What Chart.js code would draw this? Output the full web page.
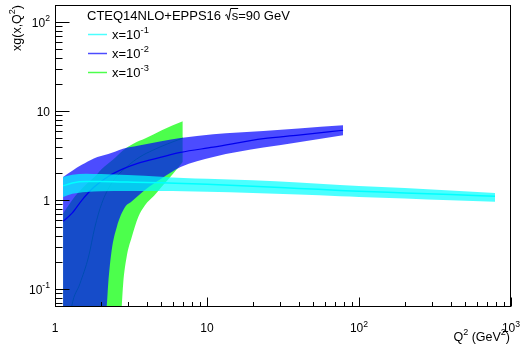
<!DOCTYPE html>
<html><head><meta charset="utf-8">
<script src="https://cdn.jsdelivr.net/npm/chart.js@4.4.1/dist/chart.umd.min.js"></script>
<style>html,body{margin:0;padding:0;background:#fff;overflow:hidden}canvas{display:block}</style>
</head><body>
<canvas id="c" width="521" height="345"></canvas>
<script>
// ---------- data ----------
const legendTitle = 'CTEQ14NLO+EPPS16';
const legendLabels = ['x=10^{-1}', 'x=10^{-2}', 'x=10^{-3}'];
const xTitle = 'Q^{2} (GeV^{2})';
const yTitle = 'xg(x,Q^{2})';

const xMajorTicks = [1, 10, 100, 1000];
const xTickLabels = ['1', '10', '10^{2}', '10^{3}'];
const yMajorTicks = [0.1, 1, 10, 100];
const yTickLabels = ['10^{-1}', '1', '10', '10^{2}'];
const xRange = [1, 1000];
const yRange = [0.0632, 156.3];

// x = 1e-1 (cyan)
const cyanQ2      = [1.13, 1.3, 1.6, 2, 3, 5, 7, 10, 20, 40, 75, 100, 200, 400, 785];
const cyanUpper   = [1.82, 1.93, 1.99, 1.97, 1.92, 1.84, 1.78, 1.74, 1.68, 1.58, 1.48, 1.45, 1.37, 1.29, 1.21];
const cyanCentral = [1.45, 1.56, 1.62, 1.62, 1.60, 1.57, 1.54, 1.51, 1.44, 1.36, 1.29, 1.26, 1.21, 1.16, 1.11];
const cyanLower   = [1.09, 1.18, 1.24, 1.26, 1.27, 1.27, 1.26, 1.25, 1.21, 1.16, 1.11, 1.09, 1.05, 1.00, 0.96];

// x = 1e-2 (blue)
const blueQ2      = [1.13, 1.3, 1.5, 1.8, 2.24, 2.8, 3.5, 5, 6.7, 11, 23.5, 40, 78.6];
const blueUpper   = [1.83, 2.15, 2.5, 2.95, 3.3, 3.8, 4.1, 4.6, 5.0, 5.5, 6.0, 6.4, 6.96];
const blueCentral = [0.58, 0.72, 1.0, 1.4, 1.85, 2.25, 2.6, 3.05, 3.45, 3.95, 4.93, 5.4, 6.12];
const blueLowQ2   = [1.13, 1.6, 2.0, 2.19, 2.24, 2.36, 2.55, 2.89, 3.19, 4, 5, 6.7, 11, 23.5, 40, 78.6];
const blueLower   = [0.0001, 0.002, 0.02, 0.065, 0.116, 0.274, 0.5, 0.84, 0.97, 1.35, 1.75, 2.37, 3.07, 3.91, 4.5, 5.37];

// x = 1e-3 (green)
const greenUpQ2     = [1.13, 1.35, 1.6, 1.83, 2.03, 2.4, 2.81, 3.3, 3.91, 5.04, 6.93];
const greenUpper    = [0.71, 1.1, 1.5, 1.85, 2.25, 2.85, 3.65, 4.35, 4.93, 6.12, 7.7];
const greenCenQ2    = [1.13, 1.2, 1.29, 1.46, 1.66, 1.83, 2.03, 2.35, 2.96, 3.62, 4.4, 5.5, 6.93];
const greenCentral  = [0.008, 0.025, 0.065, 0.116, 0.23, 0.5, 0.92, 1.54, 2.37, 3.07, 3.65, 4.3, 5.0];
const greenLowQ2    = [1.13, 2.0, 2.6, 2.75, 2.81, 2.96, 3.2, 3.53, 3.91, 4.5, 5.0, 6.0, 6.93];
const greenLower    = [0.0001, 0.001, 0.01, 0.065, 0.116, 0.23, 0.387, 0.65, 0.88, 1.13, 1.4, 2.0, 2.69];

// ---------- helpers ----------
const FONT = '"Liberation Sans", Arial, Helvetica, sans-serif';
const pts = (xs, ys) => xs.map((x, i) => ({x: x, y: ys[i]}));
const NONE = 'rgba(0,0,0,0)';

function parseRich(s) {
  const segs = []; let i = 0, buf = '';
  while (i < s.length) {
    if (s[i] === '^' && s[i + 1] === '{') {
      if (buf) { segs.push({t: buf, sup: false}); buf = ''; }
      const j = s.indexOf('}', i);
      segs.push({t: s.slice(i + 2, j), sup: true});
      i = j + 1;
    } else { buf += s[i]; i++; }
  }
  if (buf) segs.push({t: buf, sup: false});
  return segs;
}
function drawRich(ctx, s, x, y, size, align) {
  const segs = parseRich(s);
  const supSize = size * 0.72, rise = size * 0.45;
  let w = 0;
  segs.forEach(sg => { ctx.font = (sg.sup ? supSize : size) + 'px ' + FONT; sg.w = ctx.measureText(sg.t).width; w += sg.w; });
  let cx = align === 'right' ? x - w : (align === 'center' ? x - w / 2 : x);
  ctx.textAlign = 'left'; ctx.textBaseline = 'alphabetic'; ctx.fillStyle = '#000';
  segs.forEach(sg => {
    ctx.font = (sg.sup ? supSize : size) + 'px ' + FONT;
    ctx.fillText(sg.t, cx, sg.sup ? y - rise : y);
    cx += sg.w;
  });
  return w;
}
function minorTicks(lo, hi) {
  const out = [];
  for (let k = -3; k <= 3; k++) for (let m = 2; m <= 9; m++) {
    const v = m * Math.pow(10, k);
    if (v > lo && v < hi) out.push(v);
  }
  return out;
}

const axesPlugin = {
  id: 'rootAxes',
  beforeDraw(chart) {
    const ctx = chart.ctx;
    ctx.save(); ctx.fillStyle = '#fff'; ctx.fillRect(0, 0, chart.width, chart.height); ctx.restore();
  },
  afterDraw(chart) {
    const ctx = chart.ctx, a = chart.chartArea, xs = chart.scales.x, ys = chart.scales.y;
    ctx.save();
    ctx.strokeStyle = '#000'; ctx.lineWidth = 1;
    const L = Math.round(a.left) + 0.5, R = Math.round(a.right) - 0.5;
    const T = Math.round(a.top) + 0.5, B = Math.round(a.bottom) - 0.5;
    ctx.strokeRect(L, T, R - L, B - T);
    ctx.beginPath();
    // x ticks (inward)
    xMajorTicks.forEach(v => { const p = Math.round(xs.getPixelForValue(v)) + 0.5; ctx.moveTo(p, B); ctx.lineTo(p, B - 9); });
    minorTicks(xRange[0], xRange[1]).forEach(v => { const p = Math.round(xs.getPixelForValue(v)) + 0.5; ctx.moveTo(p, B); ctx.lineTo(p, B - 4.5); });
    // y ticks (inward)
    yMajorTicks.forEach(v => { const p = Math.round(ys.getPixelForValue(v)) + 0.5; ctx.moveTo(L, p); ctx.lineTo(L + 14, p); });
    minorTicks(yRange[0], yRange[1]).forEach(v => { const p = Math.round(ys.getPixelForValue(v)) + 0.5; ctx.moveTo(L, p); ctx.lineTo(L + 7, p); });
    ctx.stroke();

    // tick labels
    xMajorTicks.forEach((v, i) => drawRich(ctx, xTickLabels[i], xs.getPixelForValue(v), 332, 12, 'center'));
    yMajorTicks.forEach((v, i) => drawRich(ctx, yTickLabels[i], 50, ys.getPixelForValue(v) + 4.3, 12, 'right'));

    // axis titles
    drawRich(ctx, xTitle, 510, 341, 12.5, 'right');
    ctx.save();
    ctx.translate(21, 5);
    ctx.rotate(-Math.PI / 2);
    drawRich(ctx, yTitle, 0, 0, 12.5, 'right');
    ctx.restore();

    // legend
    ctx.fillStyle = '#000';
    ctx.font = '13px ' + FONT; ctx.textAlign = 'left'; ctx.textBaseline = 'alphabetic';
    let tx = 87; const ty = 19.5;
    const part1 = legendTitle + ' ';
    ctx.fillText(part1, tx, ty); tx += ctx.measureText(part1).width;
    // sqrt(s)
    ctx.lineWidth = 1;
    ctx.beginPath();
    ctx.moveTo(tx + 0.5, ty - 4); ctx.lineTo(tx + 2, ty - 5); ctx.lineTo(tx + 4, ty + 0.5); ctx.lineTo(tx + 6, ty - 11);
    const sw = ctx.measureText('s').width;
    ctx.lineTo(tx + 7 + sw, ty - 11);
    ctx.stroke();
    tx += 7;
    ctx.fillText('s=90 GeV', tx, ty);

    const cols = ['rgba(0,255,255,0.7)', 'rgba(0,0,255,0.7)', 'rgba(0,255,0,0.7)'];
    const base = [39, 58, 77];
    legendLabels.forEach((lab, i) => {
      ctx.strokeStyle = cols[i]; ctx.lineWidth = 1.5;
      ctx.beginPath(); ctx.moveTo(88, base[i] - 4.5); ctx.lineTo(107, base[i] - 4.5); ctx.stroke();
      drawRich(ctx, lab, 112, base[i], 13, 'left');
    });
    ctx.restore();
  }
};

const bandLine = {borderColor: NONE, borderWidth: 0, pointRadius: 0, fill: false};

new Chart(document.getElementById('c'), {
  type: 'line',
  data: {
    datasets: [
      // 0-2 green (bottom)
      Object.assign({label: 'x=1e-3 low', data: pts(greenLowQ2, greenLower), order: 31}, bandLine),
      Object.assign({}, bandLine, {label: 'x=1e-3 up', data: pts(greenUpQ2, greenUpper), order: 32, fill: 0, backgroundColor: 'rgba(0,255,0,0.7)'}),
      {label: 'x=1e-3', data: pts(greenCenQ2, greenCentral), order: 30, borderColor: '#00ff00', borderWidth: 1, pointRadius: 0, fill: false},
      // 3-5 blue
      Object.assign({label: 'x=1e-2 low', data: pts(blueLowQ2, blueLower), order: 21}, bandLine),
      Object.assign({}, bandLine, {label: 'x=1e-2 up', data: pts(blueQ2, blueUpper), order: 22, fill: 3, backgroundColor: 'rgba(0,0,255,0.7)'}),
      {label: 'x=1e-2', data: pts(blueQ2, blueCentral), order: 20, borderColor: '#0000ee', borderWidth: 1.2, pointRadius: 0, fill: false},
      // 6-8 cyan (top)
      Object.assign({label: 'x=1e-1 low', data: pts(cyanQ2, cyanLower), order: 11}, bandLine),
      Object.assign({}, bandLine, {label: 'x=1e-1 up', data: pts(cyanQ2, cyanUpper), order: 12, fill: 6, backgroundColor: 'rgba(0,255,255,0.7)'}),
      {label: 'x=1e-1', data: pts(cyanQ2, cyanCentral), order: 10, borderColor: '#00ffff', borderWidth: 1.5, pointRadius: 0, fill: false}
    ]
  },
  options: {
    responsive: false, animation: false, devicePixelRatio: 1,
    layout: {padding: {left: 55, right: 10, top: 5, bottom: 38}},
    elements: {line: {cubicInterpolationMode: 'monotone'}, point: {radius: 0}},
    plugins: {legend: {display: false}, tooltip: {enabled: false}},
    events: [],
    scales: {
      x: {type: 'logarithmic', min: xRange[0], max: xRange[1], display: false},
      y: {type: 'logarithmic', min: yRange[0], max: yRange[1], display: false}
    }
  },
  plugins: [axesPlugin]
});
</script>
</body></html>
